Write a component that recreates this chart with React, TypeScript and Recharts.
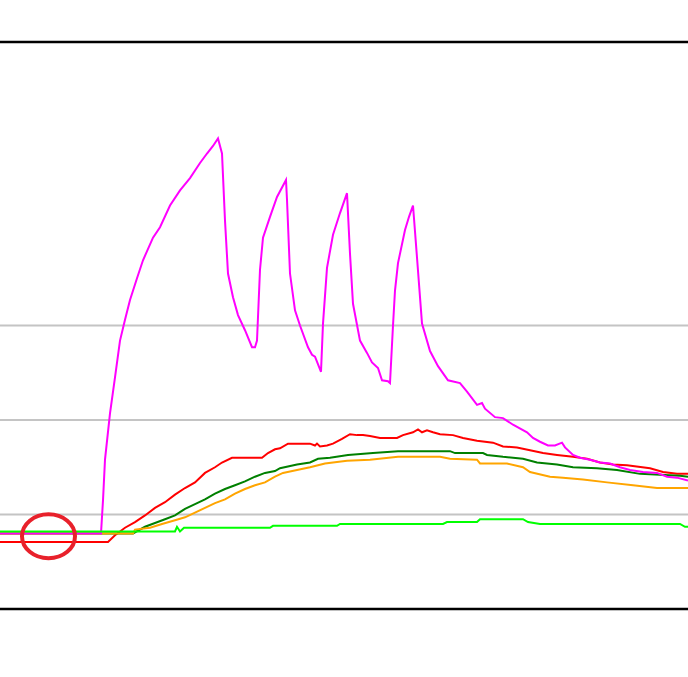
import React from "react";
import { LineChart, Line, XAxis, YAxis, ReferenceLine, ReferenceDot } from "recharts";

// time (arbitrary units), value
const magenta: [number, number][] = [
  [0, 0.8], [101, 0.8], [103, 1.15], [105, 1.58], [110, 2.07], [115, 2.45], [120, 2.84], [125, 3.06],
  [130, 3.27], [137, 3.5], [143, 3.69], [153, 3.93], [160, 4.04], [170, 4.27], [180, 4.43], [190, 4.56],
  [200, 4.72], [207, 4.82], [213, 4.9], [218, 4.98], [222, 4.82], [225, 4.11], [228, 3.55], [233, 3.3],
  [238, 3.11], [245, 2.95], [252, 2.77], [255, 2.77], [257, 2.84], [260, 3.59], [263, 3.93], [270, 4.15],
  [277, 4.36], [286, 4.54], [287, 4.33], [290, 3.55], [295, 3.16], [300, 3.0], [308, 2.77], [312, 2.69],
  [315, 2.67], [321, 2.51], [323, 3.02], [327, 3.61], [333, 3.96], [340, 4.19], [347, 4.4], [350, 3.76],
  [353, 3.23], [360, 2.84], [367, 2.71], [372, 2.61], [378, 2.55], [382, 2.42], [388, 2.41], [390, 2.39],
  [393, 3.0], [395, 3.37], [398, 3.66], [405, 4.01], [409, 4.15], [413, 4.27], [417, 3.72], [422, 3.02],
  [430, 2.73], [438, 2.57], [448, 2.42], [460, 2.39], [467, 2.3], [477, 2.16], [482, 2.18], [485, 2.12],
  [495, 2.03], [503, 2.02], [513, 1.95], [527, 1.87], [533, 1.81], [540, 1.77], [548, 1.73], [555, 1.73],
  [562, 1.76], [565, 1.71], [573, 1.63], [580, 1.6], [590, 1.58], [600, 1.55], [610, 1.54], [620, 1.5],
  [630, 1.47], [643, 1.45], [657, 1.44], [667, 1.4], [677, 1.39], [688, 1.36],
];

const red: [number, number][] = [
  [0, 0.71], [108, 0.71], [115, 0.78], [125, 0.86], [135, 0.92], [145, 0.99], [155, 1.07], [165, 1.13],
  [175, 1.21], [185, 1.28], [195, 1.34], [205, 1.44], [215, 1.5], [222, 1.55], [232, 1.6], [262, 1.6],
  [268, 1.65], [275, 1.69], [280, 1.7], [288, 1.75], [310, 1.75], [315, 1.73], [317, 1.75], [320, 1.72],
  [327, 1.73], [333, 1.75], [342, 1.8], [350, 1.85], [357, 1.84], [363, 1.84], [370, 1.83], [380, 1.81],
  [397, 1.81], [403, 1.84], [413, 1.87], [418, 1.9], [422, 1.87], [427, 1.89], [433, 1.87], [440, 1.85],
  [453, 1.84], [463, 1.81], [477, 1.78], [493, 1.76], [503, 1.72], [517, 1.71], [530, 1.68], [543, 1.65],
  [557, 1.63], [573, 1.61], [587, 1.59], [600, 1.55], [613, 1.53], [627, 1.52], [650, 1.49], [663, 1.45],
  [677, 1.43], [688, 1.43],
];

const darkGreen: [number, number][] = [
  [0, 0.8], [133, 0.8], [145, 0.87], [155, 0.91], [165, 0.95], [175, 0.99], [185, 1.06], [195, 1.11],
  [205, 1.16], [215, 1.22], [225, 1.27], [235, 1.31], [245, 1.35], [255, 1.4], [265, 1.44], [275, 1.46],
  [280, 1.49], [297, 1.53], [310, 1.55], [318, 1.59], [330, 1.6], [348, 1.63], [373, 1.65], [398, 1.67],
  [450, 1.67], [455, 1.65], [483, 1.65], [487, 1.63], [503, 1.61], [523, 1.59], [537, 1.55], [557, 1.53],
  [573, 1.5], [597, 1.49], [617, 1.47], [640, 1.43], [660, 1.42], [680, 1.41], [688, 1.4],
];

const orange: [number, number][] = [
  [0, 0.8], [133, 0.8], [135, 0.84], [150, 0.86], [162, 0.9], [175, 0.94], [185, 0.97], [195, 1.02],
  [205, 1.07], [215, 1.12], [225, 1.16], [235, 1.22], [245, 1.27], [255, 1.31], [265, 1.34], [275, 1.4],
  [283, 1.44], [297, 1.47], [310, 1.5], [325, 1.54], [347, 1.57], [370, 1.58], [398, 1.61], [440, 1.61],
  [450, 1.59], [477, 1.58], [480, 1.54], [507, 1.54], [523, 1.5], [530, 1.45], [550, 1.4], [563, 1.39],
  [583, 1.37], [607, 1.34], [633, 1.31], [657, 1.28], [688, 1.28],
];

const lime: [number, number][] = [
  [0, 0.82], [175, 0.82], [177, 0.87], [180, 0.82], [184, 0.86], [270, 0.86], [273, 0.88], [337, 0.88],
  [340, 0.9], [443, 0.9], [447, 0.92], [477, 0.92], [480, 0.95], [523, 0.95], [528, 0.92], [540, 0.9],
  [680, 0.9], [685, 0.87], [688, 0.87],
];

const gridValues = [1, 2, 3];
const borderValues = [0, 6];

const toRows = (arr: [number, number][]) => arr.map(([t, v]) => ({ t, v }));

const series = [
  { name: "red", data: red, color: "#ff0000" },
  { name: "darkGreen", data: darkGreen, color: "#008000" },
  { name: "orange", data: orange, color: "#ffa500" },
  { name: "magenta", data: magenta, color: "#ff00ff" },
  { name: "lime", data: lime, color: "#00ff00" },
];

const Ellipse = (p: any) => (
  <ellipse cx={p.cx} cy={p.cy} rx={26.5} ry={22} fill="none" stroke="#e8212b" strokeWidth={4} />
);

export default function App() {
  return (
    <div style={{ position: "absolute", left: 0, top: 0, background: "#fff" }}>
      <LineChart width={688} height={677} margin={{ top: 42, right: 0, bottom: 68, left: 0 }}>
        <XAxis type="number" dataKey="t" domain={[0, 688]} hide allowDuplicatedCategory={false} />
        <YAxis type="number" domain={[0, 6]} hide />
        {gridValues.map((g) => (
          <ReferenceLine key={g} y={g} stroke="#c4c4c4" strokeWidth={2} />
        ))}
        {borderValues.map((b) => (
          <ReferenceLine key={"b" + b} y={b} stroke="#000" strokeWidth={2.5} />
        ))}
        {series.map((s) => (
          <Line
            key={s.name}
            data={toRows(s.data)}
            dataKey="v"
            stroke={s.color}
            strokeWidth={2}
            dot={false}
            activeDot={false}
            type="linear"
            isAnimationActive={false}
          />
        ))}
        <ReferenceDot x={48.5} y={0.77} r={22} shape={Ellipse} />
      </LineChart>
    </div>
  );
}
